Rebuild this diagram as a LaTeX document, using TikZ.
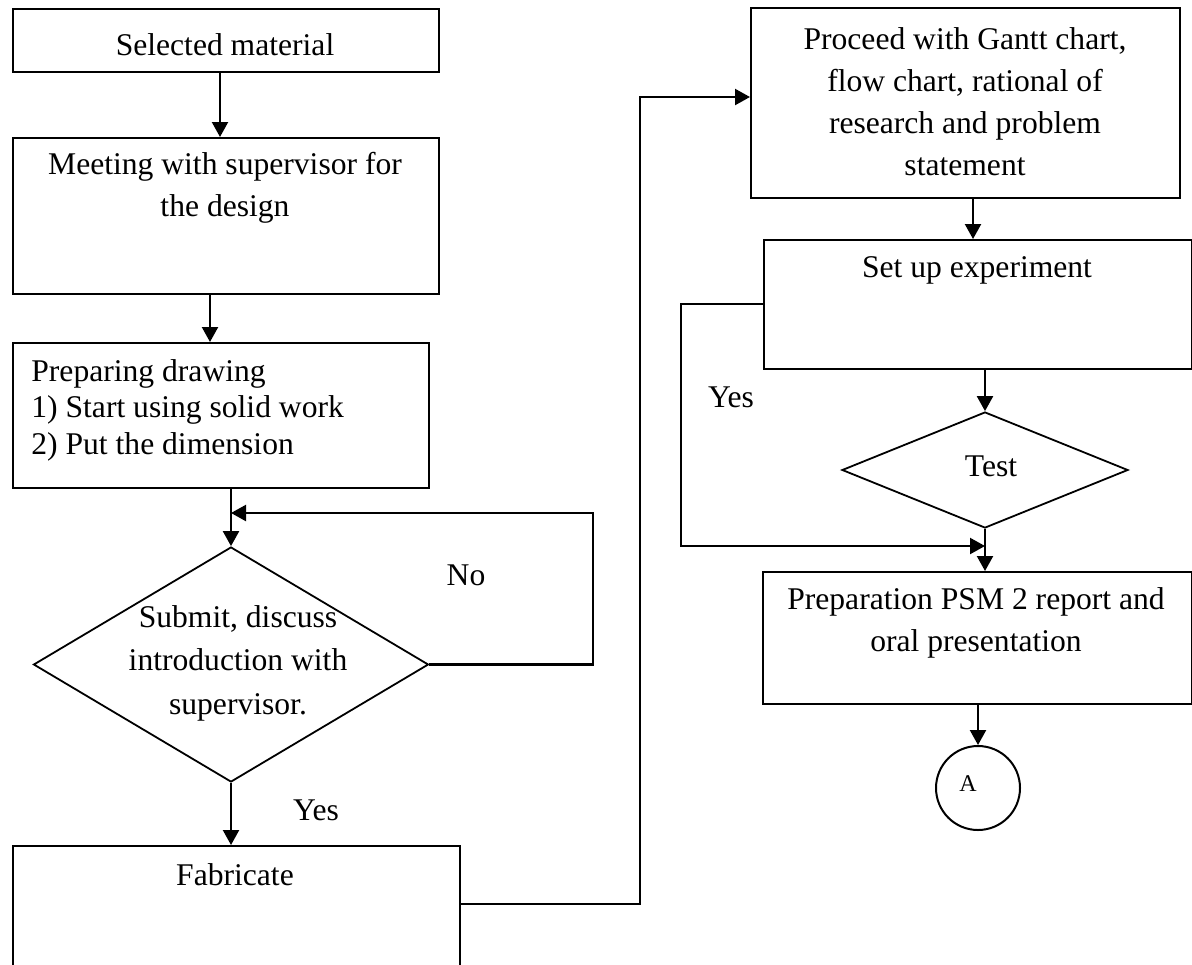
\documentclass[tikz,border=0pt]{standalone}
\usepackage{fontspec}
\setmainfont{Liberation Serif}
\usetikzlibrary{shapes.geometric,arrows.meta,positioning,calc}

\begin{document}
\begin{tikzpicture}[
        x=0.5pt, y=-0.5pt,
        font=\fontsize{15.8}{21}\selectfont,
        box/.style={rectangle, draw=black, line width=1pt, inner sep=0pt, anchor=north west},
        decision/.style={diamond, draw=black, line width=0.9pt, inner sep=0pt},
        txt/.style={align=center, inner sep=0pt},
        arrow/.style={-{Triangle[length=7.5pt,width=8pt]}, line width=1.1pt}
    ]
    \useasboundingbox (0,0) rectangle (1192,964);
    \clip (0,0) rectangle (1192,964);

    % left column
    \node[box, minimum width=213pt, minimum height=31.5pt] (sel) at (12,8) {};
    \node[txt] (seltxt) at (225,45) {Selected material};
    \node[box, minimum width=213pt, minimum height=78pt] (meet) at (12,137) {};
    \node[txt] (meettxt) at (225,188) {Meeting with supervisor for\\the design};
    \node[box, minimum width=208pt, minimum height=72.5pt] (prep) at (12,342) {};
    \node[txt, align=left, anchor=west, font=\fontsize{15.8}{18.25}\selectfont] (preptxt) at (31,410)
        {Preparing drawing\\1) Start using solid work\\2) Put the dimension};
    \node[decision, minimum width=197.5pt, minimum height=117.5pt] (submit) at (231,664.5) {};
    \node[txt, font=\fontsize{15.8}{21.75}\selectfont] (submittxt) at (238,663)
        {Submit, discuss\\introduction with\\supervisor.};
    \node[box, minimum width=223.5pt, minimum height=80pt] (fab) at (12,845) {};
    \node[txt] (fabtxt) at (235,875) {Fabricate};
    \node[txt] (no) at (466,575) {No};
    \node[txt] (yes1) at (316,810) {Yes};

    % right column
    \node[box, minimum width=214.5pt, minimum height=95pt] (proc) at (750,7) {};
    \node[txt] (proctxt) at (965,102)
        {Proceed with Gantt chart,\\flow chart, rational of\\research and problem\\statement};
    \node[box, minimum width=214pt, minimum height=64.5pt] (setup) at (763,239) {};
    \node[txt] (setuptxt) at (977,270) {Set up experiment};
    \node[decision, minimum width=143pt, minimum height=58pt] (test) at (985,470) {};
    \node[txt] (testtxt) at (991,466) {Test};
    \node[box, minimum width=214.5pt, minimum height=66pt] (psm) at (762,571) {};
    \node[txt] (psmtxt) at (976,623) {Preparation PSM 2 report and\\oral presentation};
    \node[circle, draw=black, line width=1pt, minimum size=42pt, inner sep=0pt] (conn) at (978,788) {};
    \node[txt, font=\fontsize{12}{14}\selectfont] (conntxt) at (968,784) {A};
    \node[txt] (yes2) at (731,397) {Yes};

    \coordinate (noturn) at (593,513);
    \coordinate (fabturn) at (640,904);
    \coordinate (proctop) at (640,97);
    \coordinate (yesturn) at (681,304);

    \draw[arrow] ([xshift=-3pt]sel.south) -- ([xshift=-3pt]sel.south |- meet.north);
    \draw[arrow] ([xshift=-8pt]meet.south) -- ([xshift=-8pt]meet.south |- prep.north);
    \draw[arrow] (prep.south -| submit.north) -- (submit.north);
    \draw[arrow] (submit.east) -| (noturn) -- (noturn -| submit.north);
    \draw[arrow] (submit.south) -- (submit.south |- fab.north);
    \draw[arrow] (fab.east |- fabturn) -| (proctop) -- (proctop -| proc.west);

    \draw[arrow] ([xshift=3.75pt]proc.south) -- ([xshift=3.75pt]proc.south |- setup.north);
    \draw[arrow] (setup.south -| test.north) -- (test.north);
    \draw[arrow] (setup.west |- yesturn) -- (yesturn) |- (test.south |- 0,546);
    \draw[arrow] (test.south) -- (test.south |- psm.north);
    \draw[arrow] (psm.south -| conn.north) -- (conn.north);

\end{tikzpicture}
\end{document}
